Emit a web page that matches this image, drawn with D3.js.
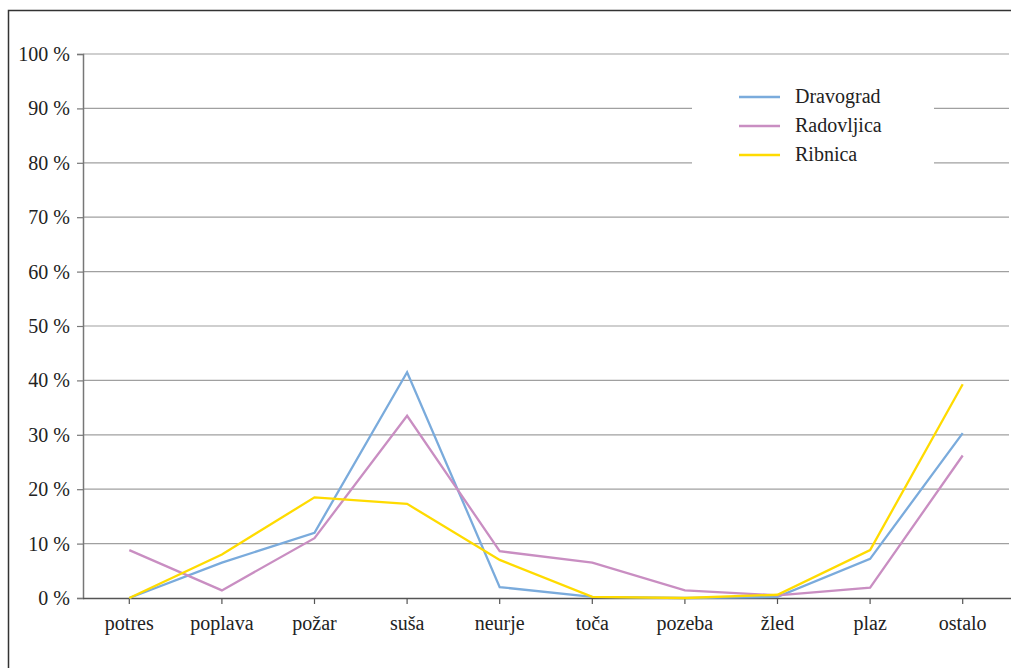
<!DOCTYPE html>
<html><head><meta charset="utf-8">
<script src="https://cdn.jsdelivr.net/npm/d3@7"></script>
<style>body{margin:0;background:#fff;} svg{display:block;} text{font-family:"Liberation Serif","DejaVu Serif",serif;}</style>
</head><body>
<svg id="c" width="1011" height="668"></svg>
<script>
const categories = ["potres","poplava","požar","suša","neurje","toča","pozeba","žled","plaz","ostalo"];
const seriesNames = ["Dravograd","Radovljica","Ribnica"];
const seriesColors = ["#7aabdc","#c98ec2","#ffdb00"];
const dravograd  = [0, 6.5, 12, 41.5, 2, 0.2, 0, 0.2, 7.2, 30.3];
const radovljica = [8.8, 1.4, 11, 33.5, 8.6, 6.5, 1.4, 0.5, 1.9, 26.2];
const ribnica    = [0, 8, 18.5, 17.3, 7, 0.2, 0, 0.6, 8.8, 39.3];
const yTicks = [0,10,20,30,40,50,60,70,80,90,100];
const seriesValues = [dravograd, radovljica, ribnica];

const svg = d3.select("#c");
const L = 83, R = 1009, T = 54, B = 598;

// frame
svg.append("path").attr("d","M1011,10.5 H8.5 V668").attr("fill","none").attr("stroke","#333").attr("stroke-width",1.5);

const x = d3.scaleBand().domain(categories).range([L, R]).padding(0);
const y = d3.scaleLinear().domain([0,100]).range([B, T]);

// gridlines
svg.append("g").selectAll("line").data(yTicks.filter(d=>d>0)).join("line")
  .attr("x1", L).attr("x2", R).attr("y1", d=>y(d)).attr("y2", d=>y(d))
  .attr("stroke","#a0a0a0").attr("stroke-width",1.2);

// y axis
const yAxis = svg.append("g").attr("transform",`translate(${L},0)`)
  .call(d3.axisLeft(y).tickValues(yTicks).tickSize(6).tickPadding(7).tickFormat(d=>d+" %"));
yAxis.select(".domain").attr("stroke","#777").attr("stroke-width",1.5);
yAxis.selectAll(".tick line").attr("stroke","#777").attr("stroke-width",1.2);
yAxis.selectAll("text").attr("font-size",20).attr("fill","#222");

// x axis
const xAxis = svg.append("g").attr("transform",`translate(0,${B})`)
  .call(d3.axisBottom(x).tickSize(6).tickPadding(12).tickSizeOuter(0));
xAxis.select(".domain").attr("stroke","#555").attr("stroke-width",1.5).attr("d",`M${L},0.5H1011`);
xAxis.selectAll(".tick line").attr("stroke","#555").attr("stroke-width",1.2);
xAxis.selectAll("text").attr("font-size",20).attr("fill","#222");

// legend box covering gridlines
svg.append("rect").attr("x",692).attr("y",78).attr("width",242).attr("height",94).attr("fill","#fff");

// lines
const line = d3.line().x((d,i)=>x(categories[i]) + x.bandwidth()/2).y(d=>y(d));
seriesValues.forEach((vals,k)=>{
  svg.append("path").datum(vals).attr("d",line).attr("fill","none")
    .attr("stroke",seriesColors[k]).attr("stroke-width",2.3).attr("stroke-linejoin","miter");
});

// legend
seriesNames.forEach((n,k)=>{
  const yy = 97 + k*29;
  svg.append("line").attr("x1",739).attr("x2",780).attr("y1",yy).attr("y2",yy)
    .attr("stroke",seriesColors[k]).attr("stroke-width",2.5);
  svg.append("text").attr("x",795).attr("y",yy+6).attr("font-size",20).attr("fill","#222").text(n);
});
</script>
</body></html>
